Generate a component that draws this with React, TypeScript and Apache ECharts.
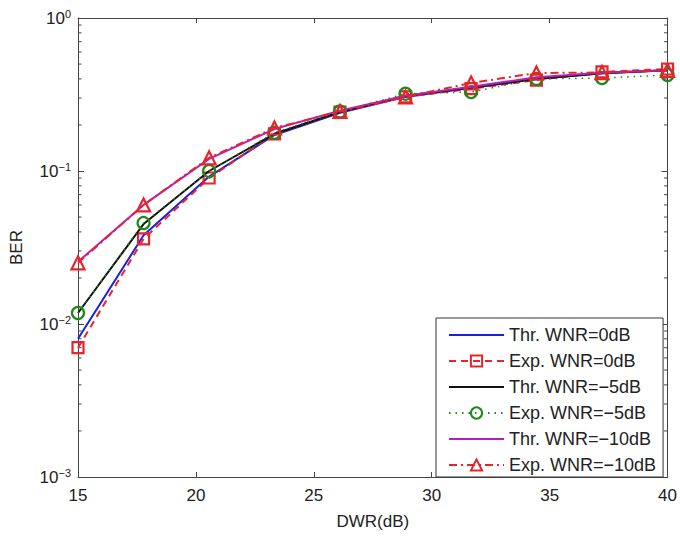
import React, { useEffect, useRef } from "react";
import * as echarts from "echarts";

const dwr = [15, 17.78, 20.56, 23.33, 26.11, 28.89, 31.67, 34.44, 37.22, 40];
const thr0 = [0.0080, 0.038, 0.092, 0.172, 0.24, 0.305, 0.35, 0.40, 0.435, 0.455];
const exp0 = [0.0070, 0.036, 0.090, 0.175, 0.243, 0.305, 0.345, 0.393, 0.444, 0.464];
const thr5 = [0.0118, 0.045, 0.100, 0.175, 0.243, 0.31, 0.35, 0.40, 0.435, 0.455];
const exp5 = [0.0118, 0.0457, 0.100, 0.178, 0.245, 0.32, 0.328, 0.40, 0.405, 0.424];
const thr10 = [0.0255, 0.060, 0.12, 0.188, 0.248, 0.31, 0.355, 0.41, 0.438, 0.455];
const exp10 = [0.0251, 0.060, 0.122, 0.191, 0.245, 0.305, 0.376, 0.437, 0.44, 0.455];

const seriesNames = [
  "Thr. WNR=0dB",
  "Exp. WNR=0dB",
  "Thr. WNR=\u22125dB",
  "Exp. WNR=\u22125dB",
  "Thr. WNR=\u221210dB",
  "Exp. WNR=\u221210dB",
];

const xTicks = { min: 15, max: 40, interval: 5 };
const yRange = { min: 0.001, max: 1 };
const minorTickValues = [
  0.002, 0.003, 0.004, 0.005, 0.006, 0.007, 0.008, 0.009,
  0.02, 0.03, 0.04, 0.05, 0.06, 0.07, 0.08, 0.09,
  0.2, 0.3, 0.4, 0.5, 0.6, 0.7, 0.8, 0.9,
];

const BLUE = "#1f1fe0";
const RED = "#e8232a";
const BLACK = "#111111";
const GREEN = "#1b8a1b";
const MAGENTA = "#b420c0";
const AXIS = "#444444";
const FONT = "Liberation Sans";

function pts(ys: number[]) {
  return dwr.map((x, i) => [x, ys[i]]);
}

export default function App() {
  const ref = useRef<HTMLDivElement>(null);
  useEffect(() => {
    if (!ref.current) return;
    const chart = echarts.init(ref.current, undefined, { renderer: "svg" });
    const hollow = (c: string) => ({
      color: "rgba(255,255,255,0)",
      borderColor: c,
      borderWidth: 2.2,
    });
    const legendData = seriesNames.map((n, i) =>
      i % 2 === 0
        ? { name: n, itemStyle: { opacity: 0, color: "rgba(0,0,0,0)", borderWidth: 0 } }
        : { name: n }
    );
    const option: any = {
      animation: false,
      backgroundColor: "#ffffff",
      textStyle: { fontFamily: FONT },
      grid: { left: 72, right: 11, top: 18, bottom: 59, containLabel: false },
      xAxis: [
        {
          type: "value",
          min: xTicks.min,
          max: xTicks.max,
          interval: xTicks.interval,
          name: "DWR(dB)",
          nameLocation: "middle",
          nameGap: 36,
          nameTextStyle: { fontSize: 17, color: "#222", fontFamily: FONT },
          axisLine: { show: true, lineStyle: { color: AXIS, width: 1 } },
          axisTick: { show: true, inside: true, length: 5, lineStyle: { color: AXIS } },
          axisLabel: { fontSize: 17, color: "#222", margin: 10, fontFamily: FONT },
          splitLine: { show: false },
        },
        {
          type: "value",
          position: "top",
          min: xTicks.min,
          max: xTicks.max,
          interval: xTicks.interval,
          axisLine: { show: true, lineStyle: { color: AXIS, width: 1 } },
          axisTick: { show: true, inside: true, length: 5, lineStyle: { color: AXIS } },
          axisLabel: { show: false },
          splitLine: { show: false },
        },
      ],
      yAxis: [
        {
          type: "log",
          logBase: 10,
          min: yRange.min,
          max: yRange.max,
          name: "BER",
          nameLocation: "middle",
          nameGap: 53,
          nameTextStyle: { fontSize: 17, color: "#222", fontFamily: FONT },
          axisLine: { show: true, lineStyle: { color: AXIS, width: 1 } },
          axisTick: { show: true, inside: true, length: 6, lineStyle: { color: AXIS } },
          axisLabel: {
            margin: 7,
            color: "#222",
            formatter: (v: number) => {
              const e = Math.round(Math.log10(v));
              const s = e < 0 ? "\u2212" + Math.abs(e) : String(e);
              return "{b|10}{e|" + s + "}";
            },
            rich: {
              b: { fontSize: 17, fontFamily: FONT, color: "#222", lineHeight: 20 },
              e: { fontSize: 11, fontFamily: FONT, color: "#222", verticalAlign: "top", lineHeight: 20, padding: [0, 0, 10, 0] },
            },
          },
          splitLine: { show: false },
        },
        {
          type: "log",
          logBase: 10,
          position: "right",
          min: yRange.min,
          max: yRange.max,
          axisLine: { show: true, lineStyle: { color: AXIS, width: 1 } },
          axisTick: { show: true, inside: true, length: 6, lineStyle: { color: AXIS } },
          axisLabel: { show: false },
          splitLine: { show: false },
        },
      ],
      legend: {
        data: legendData,
        orient: "vertical",
        left: 436,
        top: 318,
        itemWidth: 55,
        itemHeight: 14,
        itemGap: 8,
        padding: [8, 7, 3, 12],
        backgroundColor: "#ffffff",
        borderColor: "#333333",
        borderWidth: 1,
        textStyle: { fontSize: 18, color: "#222", fontFamily: FONT },
        selectedMode: false,
      },
      series: [
        {
          type: "custom",
          name: "minorTicks",
          silent: true,
          clip: false,
          z: 5,
          data: minorTickValues.map((v) => [xTicks.min, v]),
          renderItem: (params: any, api: any) => {
            const v = api.value(1);
            const pL = api.coord([xTicks.min, v]);
            const pR = api.coord([xTicks.max, v]);
            const st = { stroke: AXIS, lineWidth: 1 };
            return {
              type: "group",
              children: [
                { type: "line", shape: { x1: pL[0], y1: pL[1], x2: pL[0] + 3.5, y2: pL[1] }, style: st },
                { type: "line", shape: { x1: pR[0] - 3.5, y1: pR[1], x2: pR[0], y2: pR[1] }, style: st },
              ],
            };
          },
        },
        {
          name: seriesNames[0],
          type: "line",
          data: pts(thr0),
          symbol: "none",
          lineStyle: { color: BLUE, width: 2 },
          itemStyle: { color: BLUE },
          z: 10,
        },
        {
          name: seriesNames[1],
          type: "line",
          data: pts(exp0),
          symbol: "rect",
          symbolSize: 11,
          lineStyle: { color: RED, width: 2, type: [7, 5] },
          itemStyle: hollow(RED),
          z: 11,
        },
        {
          name: seriesNames[2],
          type: "line",
          data: pts(thr5),
          symbol: "none",
          lineStyle: { color: BLACK, width: 2 },
          itemStyle: { color: BLACK },
          z: 12,
        },
        {
          name: seriesNames[3],
          type: "line",
          data: pts(exp5),
          symbol: "circle",
          symbolSize: 12,
          lineStyle: { color: GREEN, width: 1.5, type: [1.5, 5] },
          itemStyle: hollow(GREEN),
          z: 13,
        },
        {
          name: seriesNames[4],
          type: "line",
          data: pts(thr10),
          symbol: "none",
          lineStyle: { color: MAGENTA, width: 2 },
          itemStyle: { color: MAGENTA },
          z: 14,
        },
        {
          name: seriesNames[5],
          type: "line",
          data: pts(exp10),
          symbol: "triangle",
          symbolSize: 13,
          lineStyle: { color: RED, width: 2, type: [8, 4, 2, 4] },
          itemStyle: hollow(RED),
          z: 15,
        },
      ],
    };
    chart.setOption(option);
    return () => chart.dispose();
  }, []);
  return (
    <div
      ref={ref}
      style={{ position: "fixed", left: 0, top: 0, width: 680, height: 536, background: "#fff" }}
    />
  );
}
